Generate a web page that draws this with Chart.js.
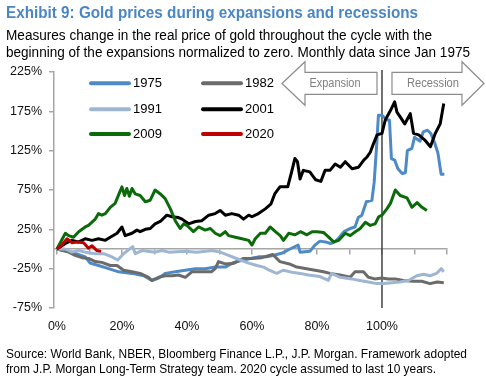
<!DOCTYPE html>
<html>
<head>
<meta charset="utf-8">
<script src="https://cdn.jsdelivr.net/npm/chart.js@4.4.1/dist/chart.umd.min.js"></script>
<style>
  html, body { margin: 0; padding: 0; background: #fff; }
  #wrap { position: relative; width: 486px; height: 387px; overflow: hidden; font-family: 'Liberation Sans', Arial, sans-serif; }
  #chart { position: absolute; left: 0; top: 0; }
  .txt { position: absolute; left: 6px; white-space: nowrap; transform-origin: 0 0; }
  #title { top: 5px; font-size: 16px; line-height: 16px; font-weight: bold; color: #4a86c4; }
  .sub { font-size: 14px; line-height: 14px; color: #000; }
  .src { font-size: 13.5px; line-height: 13.5px; color: #000; }
</style>
</head>
<body>
<div id="wrap">
  <canvas id="chart" width="486" height="387"></canvas>
  <div class="txt" id="title" data-w="412">Exhibit 9: Gold prices during expansions and recessions</div>
  <div class="txt sub" style="top:27.6px" data-w="426">Measures change in the real price of gold throughout the cycle with the</div>
  <div class="txt sub" style="top:45.2px" data-w="464">beginning of the expansions normalized to zero. Monthly data since Jan 1975</div>
  <div class="txt src" style="top:347px" data-w="461">Source: World Bank, NBER, Bloomberg Finance L.P., J.P. Morgan. Framework adopted</div>
  <div class="txt src" style="top:362px" data-w="430">from J.P. Morgan Long-Term Strategy team. 2020 cycle assumed to last 10 years.</div>
</div>
<script>
// x = % of the expansion elapsed, y = change in real gold price (%)
const xTicks = [0, 10, 20, 30, 40, 50, 60, 70, 80, 90, 100, 110, 120];
const xTickLabels = ["0%", "", "20%", "", "40%", "", "60%", "", "80%", "", "100%", "", ""];
const yTicks = [-75, -25, 25, 75, 125, 175, 225];
const yTickLabels = ["-75%", "-25%", "25%", "75%", "125%", "175%", "225%"];

const x1975 = [0, 4.6, 8.7, 10.2, 12.8, 15.9, 19, 23.1, 26.7, 29.2, 31.3, 33.3, 36.4, 39.5, 42.6, 45.6, 48.7, 51.8, 54.4, 57.4, 59.5, 62, 64.6, 66.7, 69.4, 71.7, 74.2, 74.8, 77.8, 79.4, 80.9, 82.6, 84.2, 85.5, 86.7, 88.3, 90.2, 91.7, 92.7, 93.8, 95.2, 96.9, 97.6, 98.3, 98.9, 100, 101.5, 102.3, 102.9, 103.9, 104.9, 106.2, 107.2, 107.8, 109.2, 110, 111.7, 112.7, 114, 115, 116.2, 117.2, 118.2, 119.2];
const y1975 = [0, -4, -10, -18, -21, -25, -29, -31, -34, -40, -37, -31, -29, -27, -25, -25, -23, -23, -17, -14, -12, -10, -10, -8, -5, 0, 5, -4, -3, 5, 10, 9, 7, 9, 14, 22, 26, 28, 40, 43, 60, 62, 85, 128, 170, 170, 164, 164, 115, 113, 102, 96, 97, 125, 128, 142, 137, 149, 151, 147, 135, 122, 95, 95];

const x1982 = [0, 3.6, 5.6, 7.7, 9.7, 11.8, 13.8, 16.4, 18.5, 20.5, 23.1, 25.6, 28.2, 29.2, 31.3, 33.3, 35.4, 37.4, 39.5, 41.5, 44.6, 47.5, 48.7, 49.7, 51.8, 54.5, 57.4, 60, 63, 65.6, 66.4, 68.6, 71.5, 73.8, 76.8, 79.4, 82, 84, 87.1, 90.2, 91.7, 94.3, 95.8, 97.8, 99.9, 102, 104, 106.6, 109.6, 112.2, 114.8, 117, 119];
const y1982 = [0, -4, -8, -11, -12, -16, -17, -21, -21, -27, -29, -31, -36, -40, -36, -34, -34, -33, -36, -29, -29, -29, -25, -16, -19, -18, -12, -12, -11, -8, -7, -16, -19, -23, -25, -27, -29, -31, -33, -36, -29, -29, -36, -38, -37, -38, -38, -40, -41, -41, -44, -42, -43];

const x1991 = [0, 2.6, 4.6, 6.7, 8.7, 11.8, 14.4, 16.9, 18.7, 20.5, 23.3, 24.1, 26.2, 30.2, 32.3, 34.4, 39.5, 43, 47.7, 50.2, 52.8, 56.4, 59, 61.5, 63.6, 65.3, 67.6, 69.6, 72.8, 74.8, 77.3, 80.9, 83.5, 84.5, 87.1, 90.7, 93.2, 95.8, 98.4, 100.4, 103, 105.5, 108.1, 110.7, 112.8, 114.8, 116.8, 118.2, 119];
const y1991 = [0, 0, -4, -2, -4, -6, -6, -10, -14, -6, 3, -6, -2, -4, -2, -4, -3, -4, -2, -4, -8, -14, -18, -21, -23, -27, -31, -27, -30, -31, -33, -35, -40, -31, -36, -38, -40, -42, -44, -44, -43, -42, -40, -34, -32, -34, -31, -25, -29];

const x2001 = [0, 2.6, 4.6, 6.7, 8.7, 10.8, 12.8, 14.9, 16.4, 18.5, 20, 21, 23.1, 24.6, 25.6, 27.2, 28.7, 30.2, 31.8, 33.8, 35.4, 37.4, 38.5, 40.5, 42.6, 44.6, 46.7, 48.7, 50.2, 51.8, 53.8, 55.9, 57.4, 59, 60, 62, 64.1, 65.8, 67, 68.6, 71, 72.2, 73.2, 74, 74.8, 75.8, 77.8, 79.6, 81.2, 82.5, 84, 85.6, 87.2, 88.7, 90.8, 92.8, 94.4, 95.4, 96.4, 97.4, 98.5, 100, 101, 102.6, 103.9, 104.6, 105.6, 107, 108.7, 109.2, 109.7, 111.3, 113.3, 114.9, 116.4, 117.9, 119];
const y2001 = [0, 7, 11, 9, 13, 11, 13, 11, 15, 20, 28, 17, 20, 24, 22, 25, 26, 32, 35, 43, 41, 40, 38, 32, 35, 36, 43, 45, 49, 43, 45, 43, 38, 43, 41, 45, 51, 57, 70, 79, 79, 98, 115, 111, 89, 100, 98, 88, 86, 100, 100, 108, 104, 111, 102, 104, 113, 117, 123, 134, 145, 147, 164, 176, 187, 174, 168, 159, 172, 160, 147, 145, 138, 130, 147, 159, 185];

const x2009 = [0, 2.6, 3.6, 5.1, 6.7, 8.7, 9.7, 11.8, 12.8, 13.8, 14.9, 16.4, 17.9, 18.5, 20, 20.8, 21.5, 22.3, 23.1, 24.1, 25.6, 27.2, 28.7, 30.2, 31.8, 33.3, 34.9, 36.4, 37.9, 39, 40, 42, 43.6, 45.6, 47.2, 48.7, 50.2, 51.8, 52.8, 54.9, 56.9, 59, 60, 61, 62.6, 64.1, 65.6, 67.2, 68.7, 69.7, 71.3, 73.3, 74.9, 76.9, 78.5, 80, 82, 83.6, 85.1, 86.7, 88.7, 90.2, 91.8, 93.3, 94.9, 96.4, 97.9, 99, 100, 101.5, 102.6, 104.1, 105.6, 107.7, 109.2, 110.8, 112.3, 113.8];
const y2009 = [0, 20, 17, 15, 22, 28, 30, 38, 45, 43, 45, 53, 58, 64, 79, 68, 77, 67, 77, 70, 68, 60, 62, 75, 70, 64, 51, 36, 26, 32, 30, 22, 28, 24, 26, 20, 17, 22, 17, 15, 13, 11, 5, 13, 20, 20, 28, 22, 17, 11, 20, 18, 22, 18, 22, 22, 21, 15, 9, 11, 20, 17, 22, 26, 34, 30, 32, 41, 43, 51, 58, 75, 68, 65, 53, 59, 53, 49];

const x2020 = [0, 1.5, 3.1, 4.6, 6.2, 8.2, 9.7, 10.8, 12.3, 13.6];
const y2020 = [0, 5, 13, 8, 9, 8, 1, 4, -2, -3];

const seriesNames = ["1975", "1982", "1991", "2001", "2009", "2020"];
const seriesX = [x1975, x1982, x1991, x2001, x2009, x2020];
const seriesY = [y1975, y1982, y1991, y2001, y2009, y2020];
const seriesColors = ["#4e8ac6", "#6b6b6b", "#9fb6d3", "#000000", "#0b6b0b", "#c00000"];

const FONT = "'Liberation Sans', Arial, sans-serif";
Chart.defaults.font.family = FONT;

// fit the html text lines to the widths of the reference
document.querySelectorAll(".txt").forEach(el => {
    const w = el.getBoundingClientRect().width;
    el.style.transform = "scaleX(" + (el.dataset.w / w) + ")";
});

const datasets = seriesNames.map((name, i) => ({
    label: name,
    data: seriesX[i].map((x, j) => ({ x: x, y: seriesY[i][j] })),
    borderColor: seriesColors[i],
    borderWidth: 3,
    pointRadius: 0,
    tension: 0,
    fill: false,
    borderJoinStyle: "round",
    order: seriesNames.length - i
}));

const fixedTicks = list => scale => { scale.ticks = list.map(v => ({ value: v })); };

const cyclePlugin = {
    id: "cycle",
    beforeDatasetsDraw(chart) {
        const ctx = chart.ctx, area = chart.chartArea;
        const px = chart.scales.x.getPixelForValue(100);
        ctx.save();
        ctx.strokeStyle = "#404040";
        ctx.lineWidth = 1.5;
        ctx.beginPath();
        ctx.moveTo(px, area.top - 2);
        ctx.lineTo(px, area.bottom);
        ctx.stroke();
        ctx.restore();
    },
    afterDatasetsDraw(chart) {
        const ctx = chart.ctx;
        const px = chart.scales.x.getPixelForValue(100);
        ctx.save();
        ctx.strokeStyle = "#8c8c8c";
        ctx.fillStyle = "#fff";
        ctx.lineWidth = 1.2;
        // expansion arrow, pointing left
        ctx.beginPath();
        ctx.moveTo(px - 100, 83.5);
        ctx.lineTo(px - 77, 61.7);
        ctx.lineTo(px - 77, 72.3);
        ctx.lineTo(px - 5, 72.3);
        ctx.lineTo(px - 5, 94.3);
        ctx.lineTo(px - 77, 94.3);
        ctx.lineTo(px - 77, 105.3);
        ctx.closePath();
        ctx.fill();
        ctx.stroke();
        // recession arrow, pointing right
        ctx.beginPath();
        ctx.moveTo(px + 102, 83.5);
        ctx.lineTo(px + 80, 61.7);
        ctx.lineTo(px + 80, 72.3);
        ctx.lineTo(px + 10, 72.3);
        ctx.lineTo(px + 10, 94.3);
        ctx.lineTo(px + 80, 94.3);
        ctx.lineTo(px + 80, 105.3);
        ctx.closePath();
        ctx.fill();
        ctx.stroke();
        ctx.fillStyle = "#7f7f7f";
        ctx.font = "12.5px " + FONT;
        ctx.textAlign = "center";
        ctx.textBaseline = "middle";
        ctx.fillText("Expansion", px - 47, 84, 51);
        ctx.fillText("Recession", px + 51, 84, 52);

        // legend, two columns
        const cols = [90, 202], rows = [83.3, 109.3, 134];
        ctx.font = "13px " + FONT;
        ctx.textAlign = "left";
        ctx.lineCap = "round";
        chart.data.datasets.forEach((ds, i) => {
            const lx = cols[i % 2], ly = rows[Math.floor(i / 2)];
            ctx.strokeStyle = ds.borderColor;
            ctx.lineWidth = 4;
            ctx.beginPath();
            ctx.moveTo(lx + 1, ly);
            ctx.lineTo(lx + 39, ly);
            ctx.stroke();
            ctx.fillStyle = "#000";
            ctx.fillText(ds.label, lx + 43, ly + 0.5);
        });
        ctx.restore();
    }
};

new Chart(document.getElementById("chart"), {
    type: "line",
    data: { datasets: datasets },
    plugins: [cyclePlugin],
    options: {
        responsive: false,
        devicePixelRatio: 1,
        animation: false,
        events: [],
        layout: { padding: { left: 0, top: 72, right: 39, bottom: 42 } },
        plugins: { legend: { display: false }, tooltip: { enabled: false } },
        scales: {
            x: {
                type: "linear",
                position: "bottom",
                min: -0.9,
                max: 120,
                afterBuildTicks: fixedTicks(xTicks),
                grid: { display: false, drawTicks: false },
                border: { display: false },
                ticks: {
                    padding: 11,
                    maxRotation: 0,
                    autoSkip: false,
                    color: "#111",
                    font: { size: 12.5 },
                    callback: (v, i) => xTickLabels[i]
                }
            },
            x0: {
                type: "linear",
                axis: "x",
                position: { y: 0 },
                min: -0.9,
                max: 120,
                afterBuildTicks: fixedTicks(xTicks),
                afterFit: scale => { scale.height = 0; },
                grid: { drawOnChartArea: false, tickLength: 5, color: "#a6a6a6", lineWidth: 1.5 },
                border: { color: "#a6a6a6", width: 1.5 },
                ticks: { display: false }
            },
            y: {
                type: "linear",
                min: -75,
                max: 225,
                afterBuildTicks: fixedTicks(yTicks),
                afterFit: scale => { scale.width = 54; },
                grid: { drawOnChartArea: false, tickLength: 5, color: "#a6a6a6", lineWidth: 1.5 },
                border: { color: "#a6a6a6", width: 1.5 },
                ticks: {
                    padding: 7,
                    color: "#111",
                    font: { size: 12.5 },
                    callback: (v, i) => yTickLabels[i]
                }
            }
        }
    }
});
</script>
</body>
</html>
